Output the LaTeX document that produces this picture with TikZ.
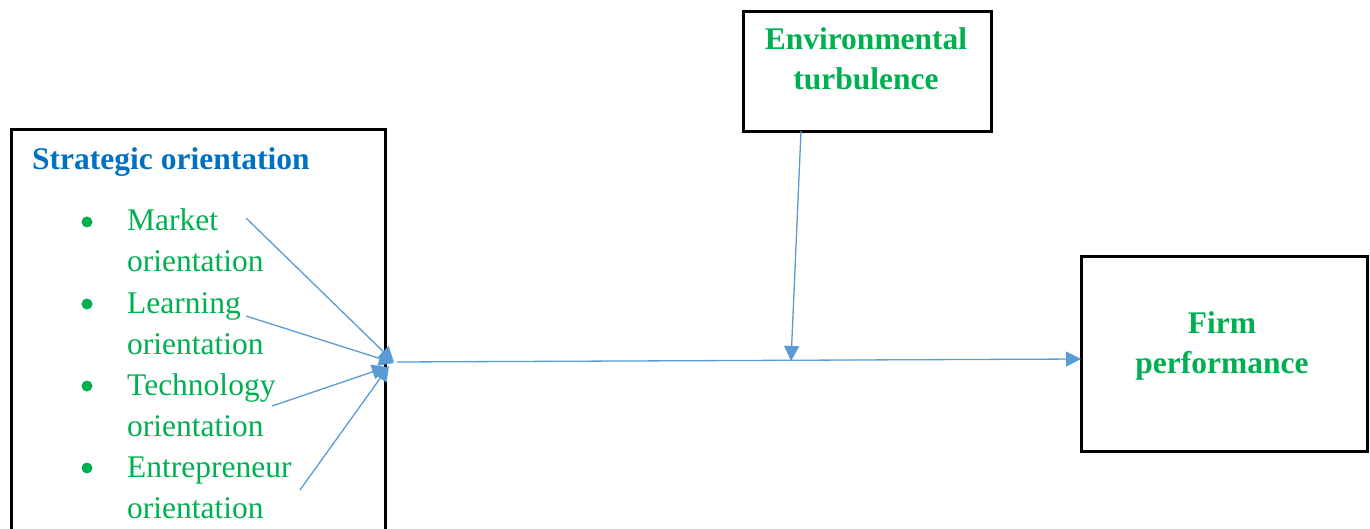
\documentclass[tikz,border=0pt]{standalone}
\usepackage{fontspec}
\setmainfont{Liberation Serif}
\usetikzlibrary{arrows.meta}
\definecolor{txtgreen}{HTML}{00B050}
\definecolor{txtblue}{HTML}{0070C0}
\definecolor{arrblue}{HTML}{5B9BD5}
\tikzset{
  boxstyle/.style={draw=black, line width=2.6pt, fill=none, inner sep=0pt},
  itemtext/.style={anchor=base west, inner sep=0pt, text=txtgreen, font=\fontsize{31.5}{40}\selectfont},
  titletext/.style={anchor=base, inner sep=0pt, text=txtgreen, font=\fontsize{31.5}{40}\selectfont\bfseries},
  bulletdot/.style={circle, fill=txtgreen, inner sep=0pt, minimum size=11pt},
  conn/.style={draw=arrblue, line width=1.3pt, -{Triangle[length=15pt,width=15pt]}, fill=arrblue}
}
\begin{document}
\begin{tikzpicture}[x=1pt,y=-1pt]
\useasboundingbox (0,0) rectangle (1370,529);
\clip (0,0) rectangle (1370,529);
% boxes
\node[boxstyle, anchor=north west, minimum width=374pt, minimum height=430pt] (so) at (10,128) {};
\node[boxstyle, anchor=north west, minimum width=248pt, minimum height=120pt] (et) at (742,10) {};
\node[boxstyle, anchor=north west, minimum width=286pt, minimum height=195pt] (fp) at (1080,255) {};
% title of left box
\node[anchor=base west, inner sep=0pt, text=txtblue, font=\fontsize{31.5}{40}\selectfont\bfseries] (sotitle) at (32,170) {Strategic orientation};
% bullets and items
\node[bulletdot] (b1) at (87,222) {};
\node[bulletdot] (b2) at (87,304) {};
\node[bulletdot] (b3) at (87,386) {};
\node[bulletdot] (b4) at (87,468) {};
\node[itemtext] (i1a) at (127,231) {Market};
\node[itemtext] (i1b) at (127,272) {orientation};
\node[itemtext] (i2a) at (127,313) {Learning};
\node[itemtext] (i2b) at (127,354) {orientation};
\node[itemtext] (i3a) at (127,395) {Technology};
\node[itemtext] (i3b) at (127,436) {orientation};
\node[itemtext] (i4a) at (127,477) {Entrepreneur};
\node[itemtext] (i4b) at (127,518) {orientation};
% environment text
\node[titletext] (et1) at (866,50) {Environmental};
\node[titletext] (et2) at (866,90) {turbulence};
% firm text
\node[titletext] (fp1) at (1222,333) {Firm};
\node[titletext] (fp2) at (1222,373) {performance};
% connector coordinates
\coordinate (s1) at (246,218);
\coordinate (s2) at (246,316);
\coordinate (s3) at (272,406);
\coordinate (s4) at (300,490);
\coordinate (h1) at (394,362);
\coordinate (h2) at (394,363);
\coordinate (h3) at (387,367);
\coordinate (h4) at (389,366);
\coordinate (ms) at (397,362);
\coordinate (me) at (1081,359);
\coordinate (es) at (801,131);
\coordinate (ee) at (791,361);
\draw[conn] (s1) -- (h1);
\draw[conn] (s2) -- (h2);
\draw[conn] (s3) -- (h3);
\draw[conn] (s4) -- (h4);
\draw[conn] (ms) -- (me);
\draw[conn] (es) -- (ee);
\end{tikzpicture}
\end{document}
